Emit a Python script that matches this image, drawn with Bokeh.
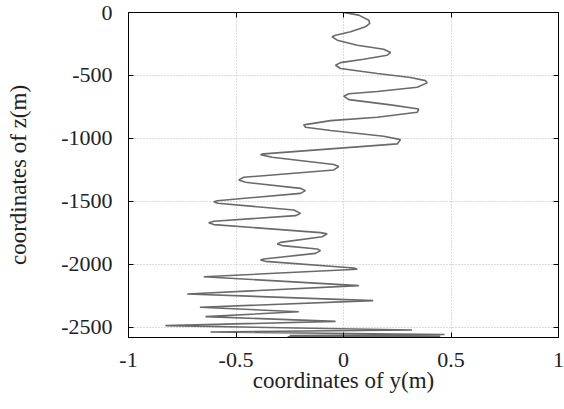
from bokeh.plotting import figure
from bokeh.models import Range1d, LinearAxis, FixedTicker, CustomJSTickFormatter
from bokeh.embed import file_html
from bokeh.resources import INLINE

# lateral coordinate y (m) and depth z (m)
y_coord = [0.0, 0.071, 0.118, 0.122, 0.102, 0.033, -0.037, -0.053, -0.029, 0.064,
           0.187, 0.219, 0.203, 0.094, -0.014, -0.037, -0.014, 0.157, 0.312, 0.381,
           0.389, 0.343, 0.157, 0.025, 0.001, 0.025, 0.219, 0.350, 0.343, 0.157,
           -0.060, -0.185, -0.177, -0.060, 0.187, 0.265, 0.250,
           -0.371, -0.386, -0.332, -0.045, -0.022, -0.045, -0.464, -0.487, -0.456,
           -0.200, -0.177, -0.200, -0.587, -0.603, -0.585, -0.231, -0.200, -0.223,
           -0.603, -0.627, -0.603, -0.107, -0.076, -0.099, -0.293, -0.308, -0.285,
           -0.122, -0.107, -0.130, -0.371, -0.386, -0.363, 0.048, 0.064,
           -0.650, 0.071, -0.727, 0.138, -0.668, -0.208, -0.642, -0.037, -0.828,
           0.319, -0.619, 0.470, -0.250, 0.450, -0.260, 0.300]
z_coord = [0, -21, -61, -87, -114, -153, -180, -193, -220, -260,
           -292, -318, -339, -371, -398, -419, -445, -485, -517, -541,
           -559, -594, -628, -646, -665, -692, -734, -766, -793, -832,
           -859, -893, -912, -938, -983, -1010, -1044,
           -1123, -1129, -1150, -1208, -1224, -1251, -1309, -1330, -1349,
           -1397, -1415, -1437, -1495, -1503, -1515, -1569, -1596, -1614,
           -1659, -1670, -1685, -1749, -1759, -1781, -1826, -1839, -1852,
           -1879, -1892, -1914, -1958, -1966, -1977, -2030, -2040,
           -2099, -2170, -2236, -2289, -2342, -2377, -2416, -2454, -2488,
           -2522, -2538, -2558, -2566, -2572, -2577, -2581]

x_ticks = [-1, -0.5, 0, 0.5, 1]
z_ticks = [0, -500, -1000, -1500, -2000, -2500]

FONT = "Liberation Serif"

p = figure(output_backend="svg", toolbar_location=None,
           frame_width=430, frame_height=325,
           min_border_left=128, min_border_right=6,
           min_border_top=12, min_border_bottom=71,
           x_range=Range1d(-1, 1), y_range=Range1d(-2582, 0),
           x_axis_label="coordinates of y(m)", y_axis_label="coordinates of z(m)")

p.line(y_coord, z_coord, line_color="#6a6a6a", line_width=1.6)

p.outline_line_color = "black"
p.outline_line_width = 1
p.background_fill_color = "white"
p.border_fill_color = "white"

for g in (p.xgrid[0], p.ygrid[0]):
    g.grid_line_color = "#b8b8b8"
    g.grid_line_dash = "1 2"
    g.grid_line_width = 1
p.xgrid[0].ticker = FixedTicker(ticks=x_ticks)
p.ygrid[0].ticker = FixedTicker(ticks=z_ticks)

bottom = p.below[0]
left = p.left[0]
bottom.ticker = FixedTicker(ticks=x_ticks)
left.ticker = FixedTicker(ticks=z_ticks)
bottom.formatter = CustomJSTickFormatter(code="return tick.toString();")
left.formatter = CustomJSTickFormatter(code="return tick.toString();")

top = LinearAxis(ticker=FixedTicker(ticks=x_ticks),
                 major_label_overrides={t: "" for t in x_ticks})
right = LinearAxis(ticker=FixedTicker(ticks=z_ticks),
                   major_label_overrides={t: "" for t in z_ticks})
p.add_layout(top, "above")
p.add_layout(right, "right")

for ax in (bottom, left, top, right):
    ax.major_tick_in = 5
    ax.major_tick_out = 0
    ax.minor_tick_in = 0
    ax.minor_tick_out = 0
    ax.axis_line_color = "black"
    ax.major_tick_line_color = "black"
    ax.major_label_text_font = FONT
    ax.major_label_text_color = "#222222"
    ax.axis_label_text_font = FONT
    ax.axis_label_text_font_style = "normal"
    ax.axis_label_text_color = "#222222"
for ax in (top, right):
    ax.major_label_standoff = 0

for ax in (bottom, left):
    ax.major_label_text_font_size = "22px"
    ax.axis_label_text_font_size = "23px"
bottom.major_label_standoff = 15
bottom.axis_label_standoff = -2
left.major_label_standoff = 16
left.axis_label_standoff = 27

open("out.html", "w").write(file_html(p, INLINE))
